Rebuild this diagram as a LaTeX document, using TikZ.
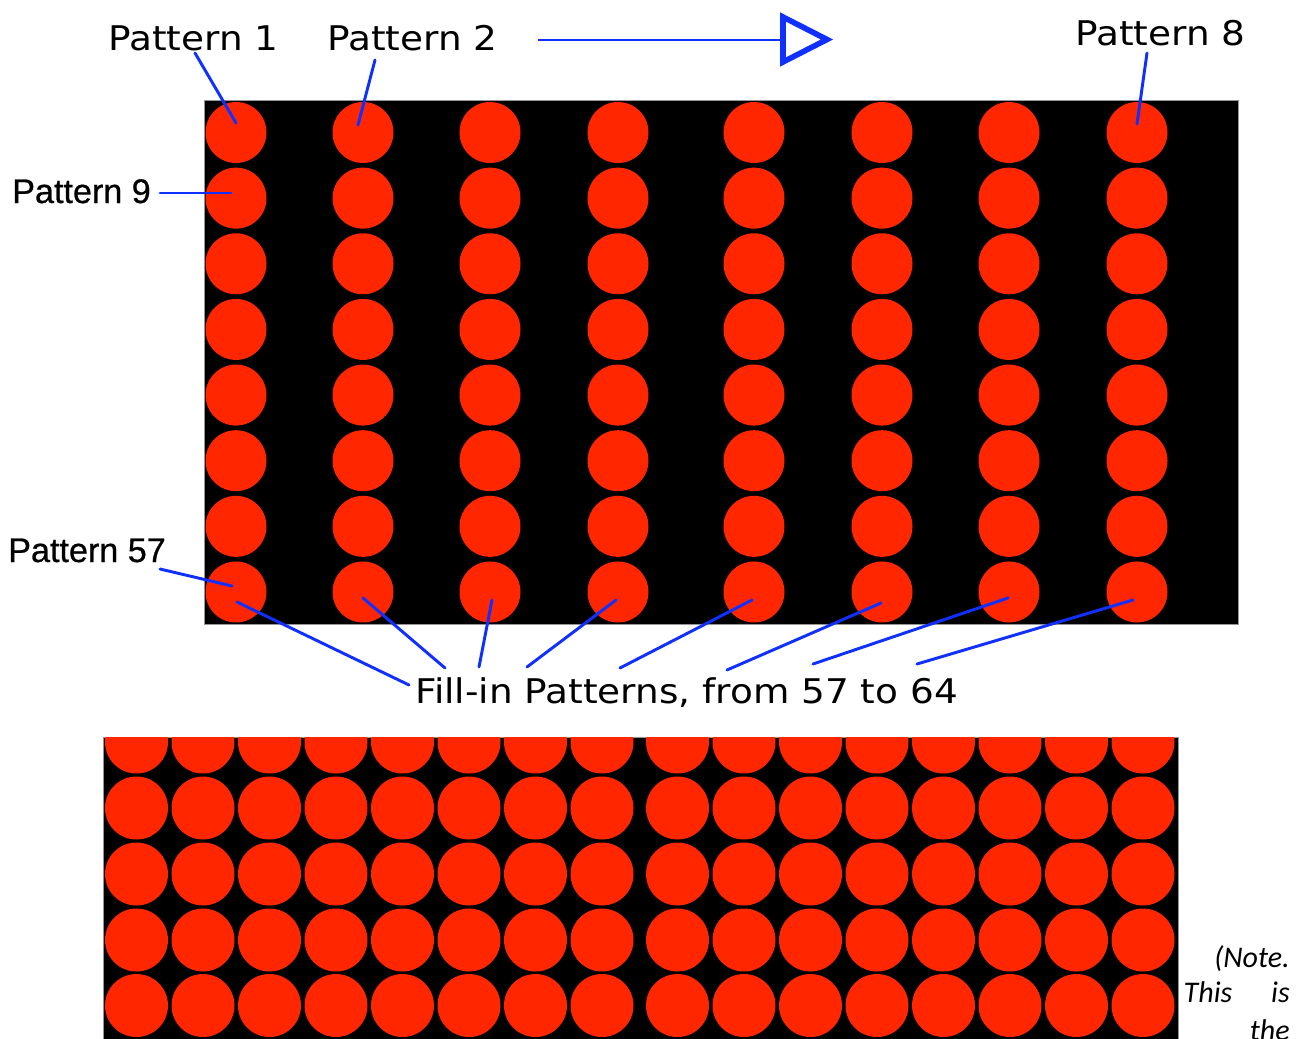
\documentclass[tikz,border=0pt]{standalone}
\usepackage{fontspec}
\usepackage{graphicx}
\setmainfont{DejaVu Sans}
\newfontfamily\labfont{DejaVu Sans}
\newfontfamily\arialfont[FakeBold=0.7]{Liberation Sans}
\newfontfamily\notefont{Carlito}
\definecolor{dotred}{RGB}{255,38,0}
\definecolor{leadblue}{RGB}{16,48,255}
\definecolor{edgegray}{RGB}{150,150,150}

\tikzset{
  panel/.style={fill=black, draw=edgegray, line width=0.75pt},
  topdot/.style={circle, fill=dotred, inner sep=0pt, minimum size=45.75pt},
  botdot/.style={circle, fill=dotred, inner sep=0pt, minimum size=47.25pt},
  leader/.style={draw=leadblue, line width=2.2pt, line cap=round},
  biglabel/.style={inner sep=0pt, anchor=base west,
    font=\labfont\fontsize{25.5}{30}\selectfont},
  sidelabel/.style={inner sep=0pt, anchor=base west,
    font=\arialfont\fontsize{25.6}{30}\selectfont},
  notetext/.style={inner sep=0pt, anchor=base east,
    font=\notefont\itshape\fontsize{22.5}{27}\selectfont},
}

\begin{document}
\begin{tikzpicture}[x=0.75pt,y=-0.75pt]
\useasboundingbox (0,0) rectangle (1304,1039);
\fill[white] (0,0) rectangle (1304,1039);

% ---- upper panel: 8 x 8 grid of patterns ----
\draw[panel] (204,100) rectangle (1238,624);
\foreach \cx [count=\i] in {236,363,490,618,754,882,1009,1137} {
  \foreach \r in {1,...,8} {
    \node[topdot] (t-\r-\i) at (\cx,{132.5+(\r-1)*65.64}) {};
  }
}

% ---- lower panel: dense fill ----
\draw[panel] (103,737) rectangle (1178,1045);
\begin{scope}
  \clip (103.5,737.5) rectangle (1177.5,1045);
  \foreach \cx [count=\i] in {136.5,203,269.5,336,402.5,469,535.5,602,
                              677.5,744,810.5,877,943.5,1010,1076.5,1143} {
    \foreach \cy [count=\r] in {742,808,874,940,1005.5} {
      \node[botdot] (b-\r-\i) at (\cx,\cy) {};
    }
  }
\end{scope}

% ---- labels ----
\node[biglabel] (p1) at (108,50) {\scalebox{1.1}[1]{Pattern 1}};
\node[biglabel] (p2) at (327,50) {\scalebox{1.1}[1]{Pattern 2}};
\node[biglabel] (p8) at (1075,45) {\scalebox{1.1}[1]{Pattern 8}};
\node[sidelabel] (p9) at (12,203) {Pattern 9};
\node[sidelabel] (p57) at (8,562) {Pattern 57};
\node[biglabel] (fill) at (415,703)
  {\scalebox{1.1}[1]{Fill-in Patterns, from 57 to 64}};

% ---- direction arrow ----
\coordinate (arrS) at (538,40);
\coordinate (arrE) at (783,40);
\draw[leadblue, line width=2.2pt] (arrS) -- (arrE);
\draw[leadblue, fill=white, line width=4.2pt, line join=miter]
  (783,17) -- (827,39.5) -- (783,62) -- cycle;

% ---- leader line end points ----
\coordinate (p1a) at (195,53);   \coordinate (p1b) at (236,123);
\coordinate (p2a) at (375,60);   \coordinate (p2b) at (358,125);
\coordinate (p8a) at (1147,53);  \coordinate (p8b) at (1137,124);
\coordinate (p9a) at (160,193);  \coordinate (p9b) at (231,193);
\coordinate (p57a) at (160,569); \coordinate (p57b) at (232,586);

\draw[leader] (p1a) -- (p1b);
\draw[leader] (p2a) -- (p2b);
\draw[leader] (p8a) -- (p8b);
\draw[leader] (p9a) -- (p9b);
\draw[leader] (p57a) -- (p57b);

% leaders from the bottom row to the fill-in caption
\foreach \sx/\sy/\ex/\ey [count=\k] in
  {237/602/409/685, 363/598/445/668, 492/600/479/667, 616/600/527/667,
   752/600/620/668, 881/603/727/670, 1008/598/813/664, 1133/600/917/664} {
  \coordinate (fs\k) at (\sx,\sy);
  \coordinate (fe\k) at (\ex,\ey);
  \draw[leader] (fs\k) -- (fe\k);
}

% ---- side note (runs on below the page edge) ----
\node[notetext] (note1) at (1290,967) {(Note.};
\node[notetext] (note2) at (1290,1002) {\makebox[79.5pt][s]{This is}};
\node[notetext] (note3) at (1290,1040) {the};
\end{tikzpicture}
\end{document}
